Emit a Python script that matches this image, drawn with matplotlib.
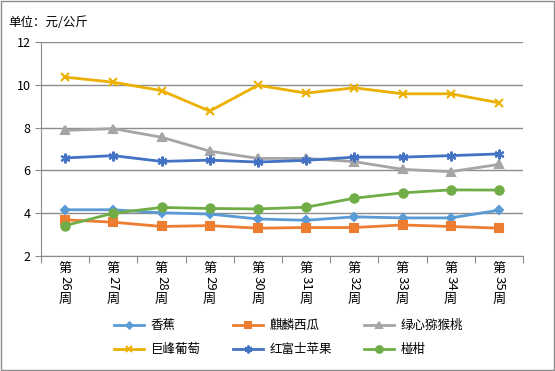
import matplotlib.pyplot as plt

plt.rcParams['font.family'] = ['Noto Sans CJK SC', 'DejaVu Sans']

weeks = ['第26周', '第27周', '第28周', '第29周', '第30周', '第31周', '第32周', '第33周', '第34周', '第35周']
xiangjiao = [4.16, 4.16, 4.02, 3.96, 3.73, 3.67, 3.83, 3.78, 3.78, 4.14]
qilin_xigua = [3.69, 3.58, 3.38, 3.42, 3.30, 3.33, 3.33, 3.45, 3.38, 3.30]
lvxin_mihoutao = [7.87, 7.95, 7.55, 6.90, 6.56, 6.56, 6.41, 6.05, 5.94, 6.28]
jufeng_putao = [10.36, 10.12, 9.73, 8.77, 9.98, 9.61, 9.86, 9.58, 9.58, 9.16]
hongfushi_pingguo = [6.58, 6.69, 6.42, 6.48, 6.39, 6.47, 6.62, 6.62, 6.69, 6.77]
penggan = [3.42, 4.00, 4.27, 4.22, 4.20, 4.28, 4.70, 4.95, 5.09, 5.08]

series = [
    ('香蕉', xiangjiao, '#5B9BD5', 'D', 4),
    ('麒麟西瓜', qilin_xigua, '#ED7D31', 's', 6),
    ('绿心猕猴桃', lvxin_mihoutao, '#A5A5A5', '^', 6),
    ('巨峰葡萄', jufeng_putao, '#EBB000', 'x', 6),
    ('红富士苹果', hongfushi_pingguo, '#4472C4', (6, 2, 0), 7),
    ('椪柑', penggan, '#70AD47', 'o', 6),
]

fig = plt.figure(figsize=(5.55, 3.71), dpi=100)
ax = fig.add_axes([41 / 555, 1 - 256 / 371, (523 - 41) / 555, (256 - 42) / 371])

x = list(range(len(weeks)))
lines = []
for name, vals, col, mk, ms in series:
    ln, = ax.plot(x, vals, color=col, lw=2, marker=mk, ms=ms, mew=1.5, label=name)
    lines.append(ln)

ax.set_xlim(-0.5, len(weeks) - 0.5)
ax.set_ylim(2, 12)
ax.set_yticks([2, 4, 6, 8, 10, 12])
ax.yaxis.grid(True, color='#8c8c8c', lw=1)
ax.set_axisbelow(True)
for s in ['top', 'right']:
    ax.spines[s].set_visible(False)
for s in ['left', 'bottom']:
    ax.spines[s].set_color('#8c8c8c')
ax.tick_params(axis='y', colors='#8c8c8c', labelcolor='black', labelsize=9, length=4)

ax.set_xticks([i - 0.5 for i in range(len(weeks) + 1)])
ax.set_xticklabels([])
ax.tick_params(axis='x', colors='#8c8c8c', length=5)

# Excel style stacked labels: CJK upright, digits turned
for i, w in enumerate(weeks):
    pos = ('data', 'axes fraction')
    ax.annotate(w[0], xy=(i, 0), xycoords=pos, xytext=(0, -12.5), textcoords='offset pixels',
                ha='center', va='center', fontsize=9.5)
    ax.annotate(w[1:-1], xy=(i, 0), xycoords=pos, xytext=(0, -27), textcoords='offset pixels',
                ha='center', va='center', fontsize=9.5, rotation=-90)
    ax.annotate(w[-1], xy=(i, 0), xycoords=pos, xytext=(0, -43), textcoords='offset pixels',
                ha='center', va='center', fontsize=9.5)

fig.text(8 / 555, 1 - 22 / 371, '单位：元/公斤', fontsize=9, va='center')

order = [0, 3, 1, 4, 2, 5]
fig.legend([lines[k] for k in order], [series[k][0] for k in order],
           loc='center', bbox_to_anchor=(0.52, 0.09), ncol=3, frameon=False,
           fontsize=9, handlelength=2.4, handletextpad=0.5, columnspacing=2.6,
           labelspacing=0.85, markerscale=0.8)

fig.patches.append(plt.Rectangle((0.001, 0.002), 0.997, 0.996, transform=fig.transFigure,
                                 fill=False, edgecolor='#8c8c8c', lw=1))

fig.savefig('out.png', dpi=100)
